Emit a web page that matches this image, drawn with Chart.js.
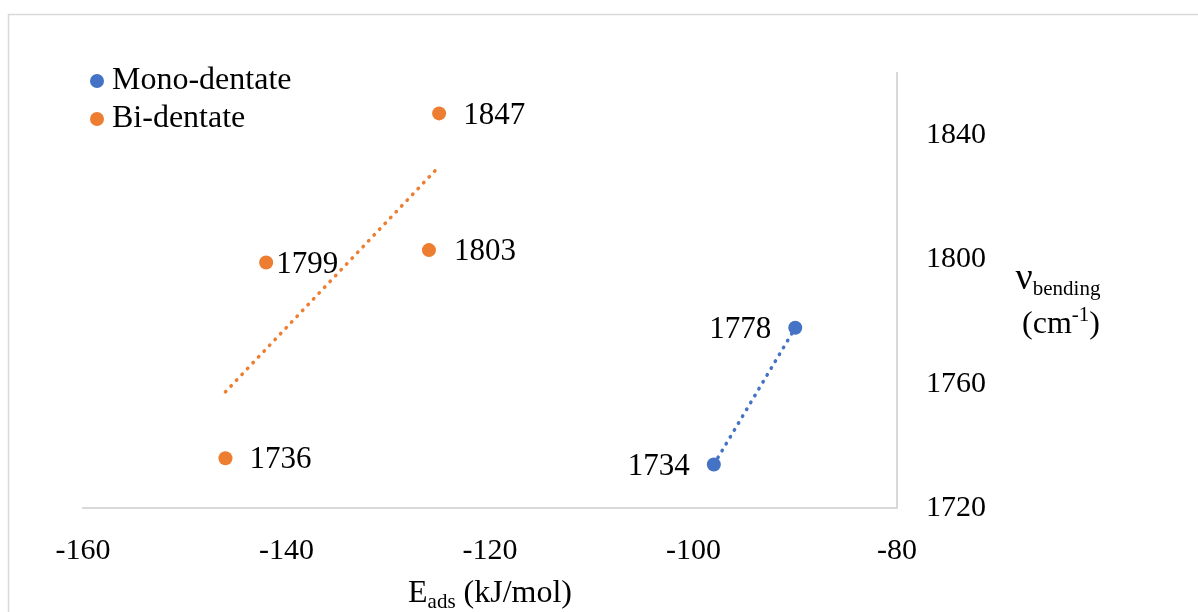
<!DOCTYPE html>
<html>
<head>
<meta charset="utf-8">
<script src="https://cdn.jsdelivr.net/npm/chart.js@4.4.1/dist/chart.umd.min.js"></script>
<style>
  html, body { margin: 0; padding: 0; background: #fff; }
  #wrap { width: 1198px; height: 612px; }
</style>
</head>
<body>
<div id="wrap"><canvas id="adsChart"></canvas></div>
<script>
// values
const monoX = [-98, -90];
const monoY = [1734, 1778];
const biX = [-125, -126, -142, -146];
const biY = [1847, 1803, 1799, 1736];
const xTicks = [-160, -140, -120, -100, -80];
const yTicks = [1720, 1760, 1800, 1840];

const blue = '#4472C4';
const orange = '#ED7D31';
const serif = '"Liberation Serif", "Times New Roman", serif';

function toPoints(xs, ys) {
  return xs.map((x, i) => ({ x: x, y: ys[i] }));
}

// least squares fit over the data's x range, like the excel trendline
function trend(xs, ys) {
  const n = xs.length;
  const mx = xs.reduce((a, b) => a + b, 0) / n;
  const my = ys.reduce((a, b) => a + b, 0) / n;
  let sxy = 0, sxx = 0;
  xs.forEach((x, i) => {
    sxy += (x - mx) * (ys[i] - my);
    sxx += (x - mx) * (x - mx);
  });
  const k = sxy / sxx;
  const lo = Math.min(...xs), hi = Math.max(...xs);
  return [{ x: lo, y: my + k * (lo - mx) }, { x: hi, y: my + k * (hi - mx) }];
}

const framePlugin = {
  id: 'frame',
  beforeDraw(chart) {
    const ctx = chart.ctx;
    ctx.save();
    ctx.fillStyle = '#fff';
    ctx.fillRect(0, 0, chart.width, chart.height);
    ctx.strokeStyle = '#d9d9d9';
    ctx.lineWidth = 1.5;
    ctx.strokeRect(8.5, 14.5, chart.width + 20, chart.height + 20);
    ctx.restore();
  }
};

const valueLabels = {
  id: 'valueLabels',
  afterDatasetsDraw(chart) {
    const ctx = chart.ctx;
    ctx.save();
    ctx.font = '31px ' + serif;
    ctx.fillStyle = '#000';
    ctx.textBaseline = 'middle';
    chart.data.datasets.forEach((ds, i) => {
      if (!ds.labelSide) return;
      chart.getDatasetMeta(i).data.forEach((pt, j) => {
        const gap = ds.labelGaps[j];
        ctx.textAlign = ds.labelSide === 'left' ? 'right' : 'left';
        const x = ds.labelSide === 'left' ? pt.x - gap : pt.x + gap;
        ctx.fillText(String(ds.data[j].y), x, pt.y + 2);
      });
    });
    ctx.restore();
  }
};

const sideLegend = {
  id: 'sideLegend',
  afterDraw(chart) {
    const ctx = chart.ctx;
    const area = chart.chartArea;
    ctx.save();
    ctx.font = '32px ' + serif;
    ctx.textBaseline = 'middle';
    ctx.textAlign = 'left';
    let y = area.top + 8;
    chart.data.datasets.forEach(ds => {
      if (!ds.labelSide) return;
      ctx.fillStyle = ds.backgroundColor;
      ctx.beginPath();
      ctx.arc(area.left + 14, y, 7, 0, Math.PI * 2);
      ctx.fill();
      ctx.fillStyle = '#000';
      ctx.fillText(ds.label, area.left + 29, y);
      y += 38;
    });
    ctx.restore();
  }
};

// titles with sub/superscripts, drawn piece by piece
function drawRuns(ctx, runs, cx, baseline) {
  let total = 0;
  runs.forEach(r => {
    ctx.font = r.size + 'px ' + serif;
    r.w = ctx.measureText(r.text).width;
    total += r.w;
  });
  let x = cx - total / 2;
  runs.forEach(r => {
    ctx.font = r.size + 'px ' + serif;
    ctx.fillText(r.text, x, baseline + (r.shift || 0));
    x += r.w;
  });
}

const axisTitles = {
  id: 'axisTitles',
  afterDraw(chart) {
    const ctx = chart.ctx;
    const area = chart.chartArea;
    ctx.save();
    ctx.fillStyle = '#000';
    ctx.textAlign = 'left';
    ctx.textBaseline = 'alphabetic';
    drawRuns(ctx, [
      { text: 'E', size: 32 },
      { text: 'ads', size: 21, shift: 6 },
      { text: ' (kJ/mol)', size: 32 }
    ], (area.left + area.right) / 2, area.bottom + 94);
    drawRuns(ctx, [
      { text: 'ν', size: 38 },
      { text: 'bending', size: 21, shift: 6 }
    ], area.right + 161, 289);
    drawRuns(ctx, [
      { text: '(cm', size: 32 },
      { text: '-1', size: 21, shift: -12 },
      { text: ')', size: 32 }
    ], area.right + 164, 333);
    ctx.restore();
  }
};

const ctx = document.getElementById('adsChart');
const chart = new Chart(ctx, {
  type: 'scatter',
  data: {
    datasets: [{
      label: 'Mono-dentate',
      data: toPoints(monoX, monoY),
      backgroundColor: blue,
      borderColor: blue,
      pointRadius: 7,
      pointHoverRadius: 7,
      pointBorderWidth: 0,
      labelSide: 'left',
      labelGaps: [24, 24]
    }, {
      label: 'Bi-dentate',
      data: toPoints(biX, biY),
      backgroundColor: orange,
      borderColor: orange,
      pointRadius: 7,
      pointHoverRadius: 7,
      pointBorderWidth: 0,
      labelSide: 'right',
      labelGaps: [24, 25, 10, 24]
    }, {
      label: 'Mono trend',
      data: trend(monoX, monoY),
      showLine: true,
      pointRadius: 0,
      borderColor: blue,
      borderWidth: 3.5,
      borderDash: [0.5, 7.5],
      borderCapStyle: 'round'
    }, {
      label: 'Bi trend',
      data: trend(biX, biY),
      showLine: true,
      pointRadius: 0,
      borderColor: orange,
      borderWidth: 3.5,
      borderDash: [0.5, 7.5],
      borderCapStyle: 'round'
    }]
  },
  options: {
    responsive: true,
    maintainAspectRatio: false,
    animation: false,
    layout: {
      padding: { left: 83, top: 73, right: 0, bottom: 0 }
    },
    scales: {
      x: {
        type: 'linear',
        min: -160,
        max: -80,
        afterBuildTicks: scale => { scale.ticks = xTicks.map(v => ({ value: v })); },
        afterFit: scale => { scale.height = 104; },
        grid: { display: false, drawTicks: false },
        border: { display: true, color: '#d9d9d9', width: 2 },
        ticks: {
          font: { family: serif, size: 30 },
          color: '#000',
          padding: 25,
          maxRotation: 0,
          autoSkip: false,
          callback: v => String(v)
        }
      },
      y: {
        type: 'linear',
        position: 'right',
        min: 1720,
        max: 1860,
        afterBuildTicks: scale => { scale.ticks = yTicks.map(v => ({ value: v })); },
        afterFit: scale => { scale.width = 301; },
        grid: { display: false, drawTicks: false },
        border: { display: true, color: '#d9d9d9', width: 2 },
        ticks: {
          font: { family: serif, size: 30 },
          color: '#000',
          padding: 29,
          autoSkip: false,
          callback: v => String(v)
        }
      }
    },
    plugins: {
      legend: { display: false },
      tooltip: { enabled: false }
    }
  },
  plugins: [framePlugin, valueLabels, sideLegend, axisTitles]
});
</script>
</body>
</html>
